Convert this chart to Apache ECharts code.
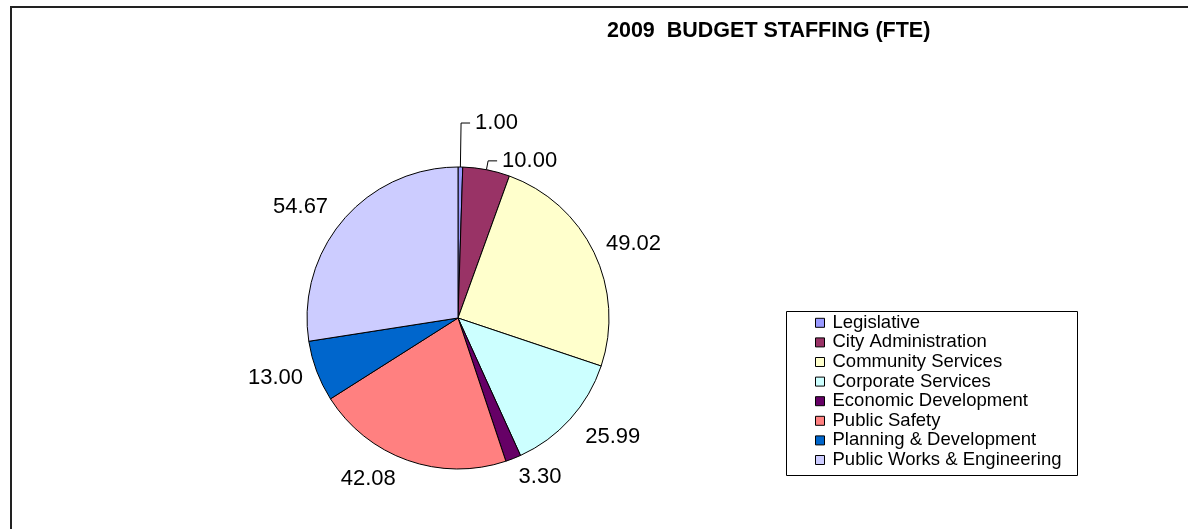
<!DOCTYPE html>
<html><head><meta charset="utf-8">
<script src="https://cdn.jsdelivr.net/npm/echarts@6/dist/echarts.min.js"></script>
<style>html,body{margin:0;padding:0;background:#fff}#c{width:1188px;height:529px}</style>
</head><body><div id="c"></div>
<script>
const categories = ['Legislative','City Administration','Community Services','Corporate Services','Economic Development','Public Safety','Planning & Development','Public Works & Engineering'];
const values = [1.00, 10.00, 49.02, 25.99, 3.30, 42.08, 13.00, 54.67];
const colors = ['#9999FF','#993366','#FFFFCC','#CCFFFF','#660066','#FF8080','#0066CC','#CCCCFF'];
const titleText = '2009  BUDGET STAFFING (FTE)';

const FONT = "Arial, 'Liberation Sans', sans-serif";
// label-line style per slice (leader lines only for the two thin slices)
const lineLen = [44, 9, 20, 27, 20, 20, 20, 20];
const lineLen2 = [9, 9, 0, 0, 0, 0, 0, 0];
const lineShow = [true, true, false, false, false, false, false, false];
const labelGap = [5, 5, -6, -5, -2, 5, -5, 0];

const data = categories.map((name, i) => ({
  name: name,
  value: values[i],
  itemStyle: {color: colors[i]},
  label: {distanceToLabelLine: labelGap[i]},
  labelLine: {show: lineShow[i], length: lineLen[i], length2: lineLen2[i]}
}));

const chart = echarts.init(document.getElementById('c'), null, {renderer: 'canvas'});
chart.setOption({
  animation: false,
  backgroundColor: '#fff',
  color: colors,
  title: {
    text: titleText,
    left: 607, top: 20, padding: 0,
    textStyle: {fontFamily: FONT, fontSize: 21.5, fontWeight: 'bold', color: '#000'}
  },
  graphic: [
    {type: 'rect', shape: {x: 11, y: 7, width: 1400, height: 800}, style: {fill: 'none', stroke: '#222', lineWidth: 2}, silent: true},
    {type: 'rect', shape: {x: 786.5, y: 311.5, width: 291, height: 164}, style: {fill: 'none', stroke: '#000', lineWidth: 1}, silent: true}
  ],
  legend: {
    orient: 'vertical', left: 815, top: 313, padding: 0,
    itemWidth: 9, itemHeight: 9, itemGap: 0, icon: 'rect',
    selectedMode: false,
    itemStyle: {borderColor: '#000', borderWidth: 1},
    textStyle: {fontFamily: FONT, fontSize: 18.5, lineHeight: 19.6, color: '#000', padding: [0, 0, 0, 3]},
    data: categories
  },
  series: [{
    type: 'pie',
    center: [458, 318],
    radius: 151,
    startAngle: 90,
    clockwise: true,
    avoidLabelOverlap: false,
    emphasis: {disabled: true},
    itemStyle: {borderColor: '#000', borderWidth: 1},
    label: {
      show: true, position: 'outside', color: '#000',
      fontFamily: FONT, fontSize: 22,
      formatter: p => p.value.toFixed(2)
    },
    labelLine: {lineStyle: {color: '#000', width: 1}, smooth: false},
    data: data
  }]
});
</script></body></html>
